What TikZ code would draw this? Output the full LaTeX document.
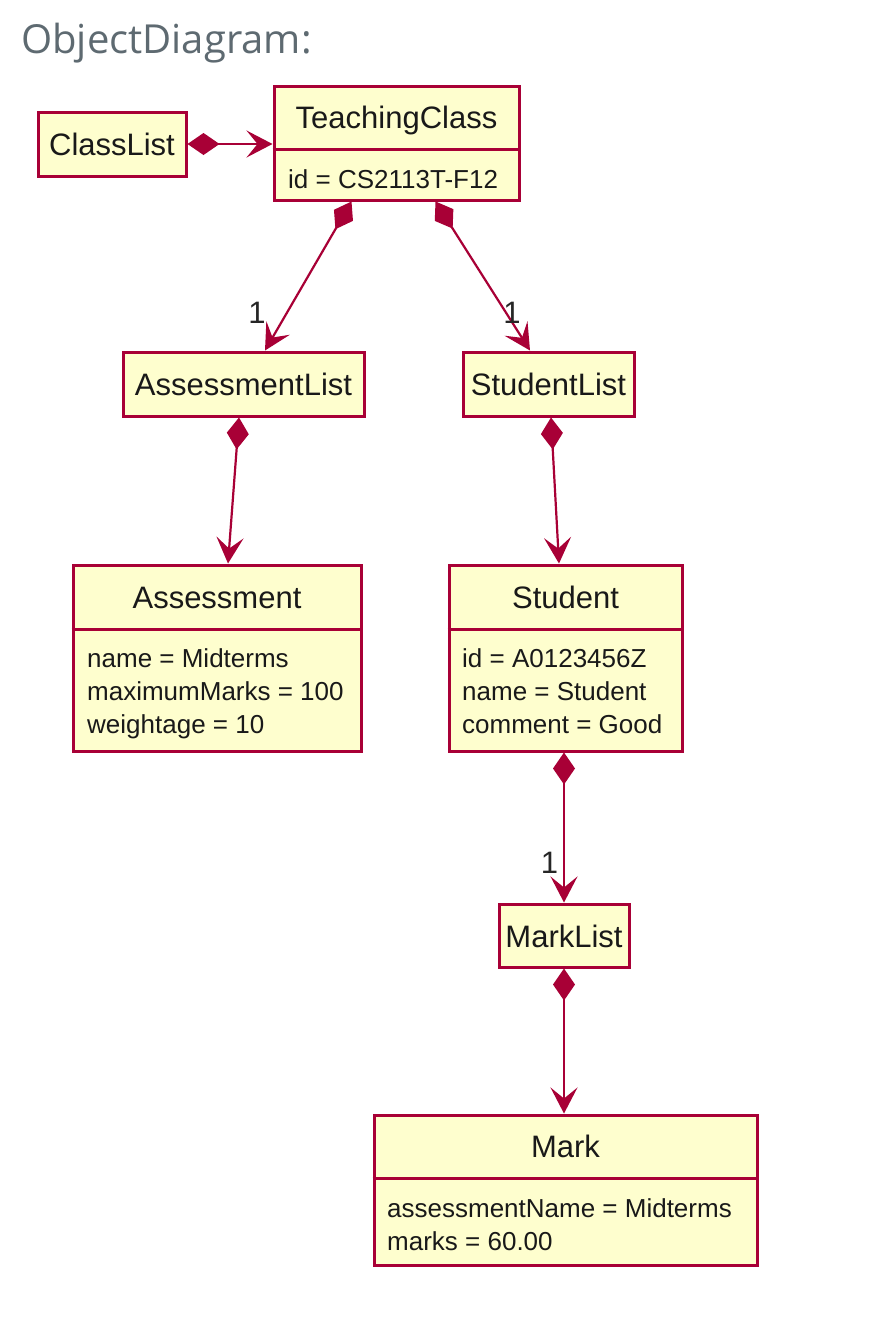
\documentclass[tikz,border=0pt]{standalone}
\usepackage{fontspec}
\setmainfont{Liberation Sans}
\newfontfamily\titlefont{Open Sans}
\usetikzlibrary{arrows.meta}
\definecolor{umlborder}{HTML}{A80036}
\definecolor{umlfill}{HTML}{FEFECE}
\definecolor{titlegray}{HTML}{5E6A71}
\begin{document}
\begin{tikzpicture}[x=1pt,y=-1pt,
  objbox/.style={draw=umlborder, fill=umlfill, line width=3pt, inner sep=0pt, rectangle},
  sepline/.style={draw=umlborder, line width=3pt},
  nametext/.style={font=\fontsize{31}{36}\selectfont, text=black!90, inner sep=0pt, anchor=base},
  attrtext/.style={font=\fontsize{26}{30}\selectfont, text=black!90, inner sep=0pt, anchor=base west},
  mult/.style={font=\fontsize{31}{36}\selectfont, text=black!85, inner sep=0pt},
  comp/.style={draw=umlborder, line width=2.2pt,
    {Diamond[length=32pt,width=22pt]}-{Stealth[length=26pt,width=27pt,inset=11pt]}}]
\useasboundingbox (0,0) rectangle (876,1333);
\fill[white] (0,0) rectangle (876,1333);

\node[anchor=base west, font=\titlefont\fontsize{40}{44}\selectfont, text=titlegray, inner sep=0pt] (title) at (21,53) {ObjectDiagram:};

% ClassList
\node[objbox, minimum width=148pt, minimum height=64pt] (cl) at (112,144) {};
\node[nametext] (cln) at (112,155) {ClassList};

% TeachingClass
\node[objbox, minimum width=245pt, minimum height=114pt] (tc) at (396.5,143) {};
\draw[sepline] (tc.west |- 0,149) -- (tc.east |- 0,149);
\node[nametext] (tcn) at (396.5,128) {TeachingClass};
\node[attrtext] (tca) at (288,188) {id = CS2113T-F12};

% AssessmentList
\node[objbox, minimum width=241pt, minimum height=64pt] (al) at (243.5,384) {};
\node[nametext] (aln) at (243.5,395) {AssessmentList};

% StudentList
\node[objbox, minimum width=171pt, minimum height=64pt] (sl) at (548.5,384) {};
\node[nametext] (sln) at (548.5,395) {StudentList};

% Assessment
\node[objbox, minimum width=288pt, minimum height=186pt] (as) at (217,658) {};
\draw[sepline] (as.west |- 0,629) -- (as.east |- 0,629);
\node[nametext] (asn) at (217,608) {Assessment};
\node[attrtext] (asa1) at (87,667) {name = Midterms};
\node[attrtext] (asa2) at (87,700) {maximumMarks = 100};
\node[attrtext] (asa3) at (87,733) {weightage = 10};

% Student
\node[objbox, minimum width=233pt, minimum height=186pt] (st) at (565.5,658) {};
\draw[sepline] (st.west |- 0,629) -- (st.east |- 0,629);
\node[nametext] (stn) at (565.5,608) {Student};
\node[attrtext] (sta1) at (462,667) {id = A0123456Z};
\node[attrtext] (sta2) at (462,700) {name = Student};
\node[attrtext] (sta3) at (462,733) {comment = Good};

% MarkList
\node[objbox, minimum width=130pt, minimum height=63pt] (ml) at (564,935.5) {};
\node[nametext] (mln) at (564,947) {MarkList};

% Mark
\node[objbox, minimum width=383pt, minimum height=150pt] (mk) at (565.5,1190) {};
\draw[sepline] (mk.west |- 0,1178) -- (mk.east |- 0,1178);
\node[nametext] (mkn) at (565.5,1157) {Mark};
\node[attrtext] (mka1) at (387,1217) {assessmentName = Midterms};
\node[attrtext] (mka2) at (387,1250) {marks = 60.00};

% connectors
\draw[comp] (cl.east) -- (cl.east -| tc.west);
\draw[comp] ([xshift=79pt]tc.south west) -- ([xshift=21.5pt]al.north);
\draw[comp] ([xshift=163pt]tc.south west) -- ([xshift=-18.5pt]sl.north);
\draw[comp] ([xshift=-4.5pt]al.south) -- ([xshift=11pt]as.north);
\draw[comp] ([xshift=2.5pt]sl.south) -- ([xshift=-6.5pt]st.north);
\draw[comp] ([xshift=-1.5pt]st.south) -- (ml.north);
\draw[comp] (ml.south) -- ([xshift=-1.5pt]mk.north);

% multiplicities
\node[mult] (m1) at (257,313) {1};
\node[mult] (m2) at (512,313) {1};
\node[mult] (m3) at (549.5,863) {1};
\end{tikzpicture}
\end{document}
